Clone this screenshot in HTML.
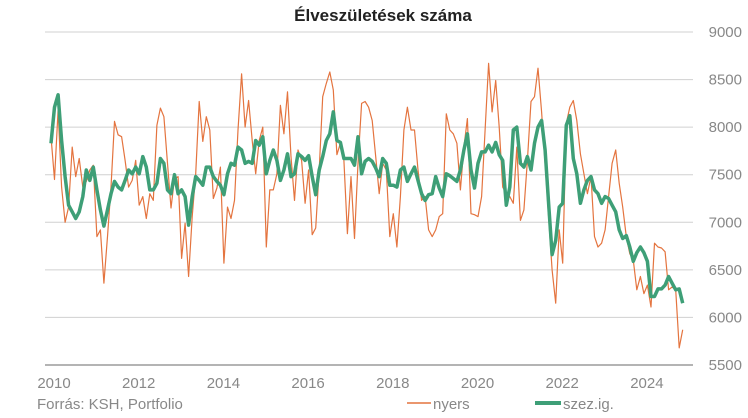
<!DOCTYPE html>
<html><head><meta charset="utf-8"><style>
body{margin:0;background:#fff;}
svg{display:block;font-family:"Liberation Sans",sans-serif;}
</style></head><body>
<svg id="chart" width="748" height="418" xmlns="http://www.w3.org/2000/svg">
<text x="383" y="21" text-anchor="middle" font-size="17" font-weight="bold" fill="#222">Élveszületések száma</text>
<g id="grid"></g>
<g id="series"></g>
<text x="37" y="409" font-size="15" fill="#888">Forrás: KSH, Portfolio</text>
<g>
<line x1="407" y1="403" x2="431" y2="403" stroke="#e4743f" stroke-width="1.5"/>
<text x="433" y="409" font-size="15" fill="#888">nyers</text>
</g>
<g>
<line x1="535" y1="403" x2="561" y2="403" stroke="#3e9f77" stroke-width="4"/>
<text x="563" y="409" font-size="15" fill="#888">szez.ig.</text>
</g>
</svg>
<script>
const yTicks = [5500,6000,6500,7000,7500,8000,8500,9000];
const xTickLabels = [2010,2012,2014,2016,2018,2020,2022,2024];
const startYear = 2010;
const nyers = [7900,7450,8180,7370,7000,7160,7790,7480,7670,7370,7430,7550,7600,6850,6920,6360,6850,7370,8060,7920,7900,7650,7370,7440,7650,7180,7270,7040,7300,7230,8020,8200,8110,7620,7150,7460,7480,6620,6990,6430,7060,7510,8270,7850,8110,7970,7250,7360,7580,6570,7160,7040,7230,7970,8560,8000,8280,7860,7510,7860,8000,6740,7340,7340,7510,8230,7930,8370,7690,7230,7760,7650,7200,7550,6870,6940,7550,8320,8460,8580,8390,7710,7830,7650,6880,7480,6830,7620,8250,8270,8210,8070,7690,7300,7620,7550,6850,7090,6740,7270,7970,8210,7970,7970,7550,7230,7270,6920,6850,6920,7060,7090,8140,7970,7930,7830,7340,7790,8090,7090,7080,7060,7270,7970,8670,8160,8490,8000,7370,7300,7270,7200,7790,7020,7130,7650,8270,8320,8620,8160,7620,7060,6500,6150,6920,6570,8040,8210,8280,8070,7720,7510,7300,7480,6850,6740,6780,6920,7270,7620,7760,7410,7160,6850,6670,6600,6290,6430,6250,6340,6110,6780,6740,6730,6690,6290,6320,6290,5680,5870];
const szez = [7830,8210,8340,7860,7480,7180,7110,7040,7110,7270,7550,7440,7580,7340,7130,6960,7130,7300,7430,7370,7340,7440,7550,7510,7580,7510,7690,7580,7340,7340,7410,7670,7620,7340,7300,7500,7300,7340,7270,6970,7270,7480,7440,7390,7580,7580,7480,7430,7390,7290,7510,7620,7600,7790,7760,7620,7640,7620,7860,7810,7900,7510,7650,7760,7650,7440,7550,7720,7480,7510,7720,7690,7650,7700,7480,7290,7550,7690,7860,7930,8160,7860,7840,7670,7670,7670,7600,7900,7510,7640,7670,7640,7570,7480,7670,7620,7390,7390,7370,7550,7580,7430,7510,7580,7440,7300,7230,7290,7300,7480,7360,7270,7510,7490,7460,7430,7550,7760,7930,7550,7360,7620,7740,7740,7810,7740,7840,7710,7650,7180,7370,7970,8000,7620,7580,7690,7550,7830,8000,8070,7760,7200,6660,6810,7160,7200,8020,8120,7670,7510,7200,7340,7440,7480,7340,7300,7200,7270,7250,7180,7110,6920,6830,6860,6740,6590,6680,6740,6680,6590,6220,6220,6300,6300,6340,6430,6360,6290,6300,6150];

const X0 = 51, PX_YEAR = 42.35, X_LEFT = 45, X_RIGHT = 693;
const Y_TOP = 32, Y_BOT = 365, VMIN = 5500, VMAX = 9000;
function xMonth(i){ return X0 + i * PX_YEAR / 12; }
function xYear(y){ return X0 + (y - startYear) * PX_YEAR; }
function yVal(v){ return Y_BOT - (v - VMIN) / (VMAX - VMIN) * (Y_BOT - Y_TOP); }
const NS = "http://www.w3.org/2000/svg";
const grid = document.getElementById('grid');
const series = document.getElementById('series');

yTicks.forEach(function(t){
  const ln = document.createElementNS(NS,'line');
  ln.setAttribute('x1', X_LEFT); ln.setAttribute('x2', X_RIGHT);
  ln.setAttribute('y1', yVal(t)); ln.setAttribute('y2', yVal(t));
  ln.setAttribute('stroke', t === VMIN ? '#888' : '#d0d0d0');
  ln.setAttribute('stroke-width', t === VMIN ? '1.2' : '1');
  
  
  grid.appendChild(ln);
  const tx = document.createElementNS(NS,'text');
  tx.setAttribute('x', 742); tx.setAttribute('y', yVal(t) + 5);
  tx.setAttribute('text-anchor','end'); tx.setAttribute('font-size','15'); tx.setAttribute('fill','#888');
  tx.textContent = t;
  
  
  grid.appendChild(tx);
});
xTickLabels.forEach(function(y){
  const tx = document.createElementNS(NS,'text');
  tx.setAttribute('x', xYear(y) + 3); tx.setAttribute('y', 388);
  tx.setAttribute('text-anchor','middle'); tx.setAttribute('font-size','15'); tx.setAttribute('fill','#888');
  tx.textContent = y;
  
  
  grid.appendChild(tx);
});
function makeLine(arr, color, w, name){
  const p = document.createElementNS(NS,'polyline');
  p.setAttribute('points', arr.map(function(v,i){ return xMonth(i).toFixed(1)+','+yVal(v).toFixed(1); }).join(' '));
  p.setAttribute('fill','none'); p.setAttribute('stroke',color); p.setAttribute('stroke-width',w);
  p.setAttribute('stroke-linejoin','round');
  
  
  series.appendChild(p);
}
makeLine(nyers, '#e4743f', 1.2, 'nyers-line');
makeLine(szez, '#3e9f77', 3.5, 'szez-line');
</script>
</body></html>
